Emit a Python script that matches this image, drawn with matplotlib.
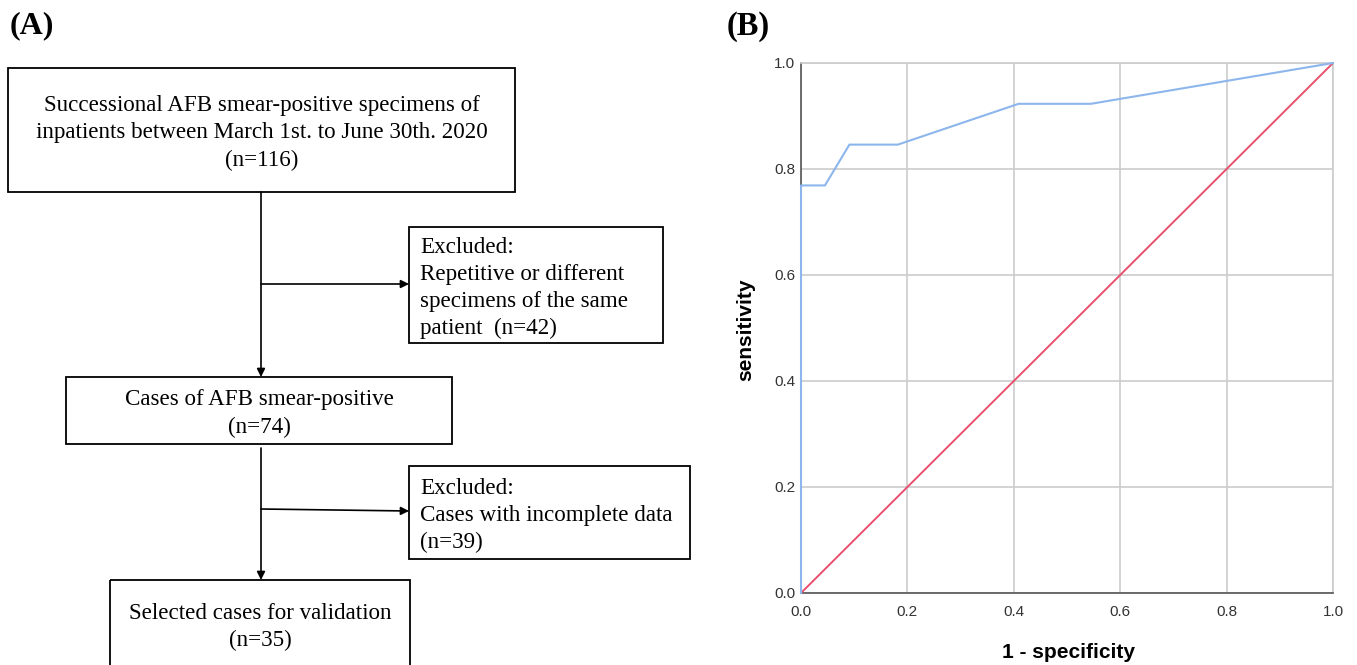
import matplotlib.pyplot as plt

# ROC curve points (1 - specificity, sensitivity)
fpr = [0.0, 0.0, 0.045, 0.091, 0.182, 0.409, 0.545, 1.0]
tpr = [0.0, 0.769, 0.769, 0.846, 0.846, 0.923, 0.923, 1.0]
ref_x = [0.0, 1.0]
ref_y = [0.0, 1.0]
ticks = [0.0, 0.2, 0.4, 0.6, 0.8, 1.0]
tick_labels = ['0.0', '0.2', '0.4', '0.6', '0.8', '1.0']

# flowchart text
box_texts = [
    'Successional AFB smear-positive specimens of\ninpatients between March 1st. to June 30th. 2020\n(n=116)',
    'Excluded:\nRepetitive or different\nspecimens of the same\npatient  (n=42)',
    'Cases of AFB smear-positive\n(n=74)',
    'Excluded:\nCases with incomplete data\n(n=39)',
    'Selected cases for validation\n(n=35)',
]

W, H = 1357, 665
fig = plt.figure(figsize=(W / 100, H / 100), dpi=100)

# ---- panel A: flowchart drawn in pixel coordinates
axA = fig.add_axes([0, 0, 1, 1])
axA.set_xlim(0, W)
axA.set_ylim(H, 0)
axA.axis('off')

serif = 'Liberation Serif'
fs = 16.6
ls = 1.38
# (x0, y0, x1, y1, align)
boxes = [
    (8, 68, 515, 192, 'center'),
    (409, 227, 663, 343, 'left'),
    (66, 377, 452, 444, 'center'),
    (409, 466, 690, 559, 'left'),
    (110, 580, 410, 668, 'center'),
]
for (x0, y0, x1, y1, al), txt in zip(boxes, box_texts):
    axA.add_patch(plt.Rectangle((x0, y0), x1 - x0, y1 - y0, fill=False,
                                ec='black', lw=1.3, clip_on=False))
    if al == 'center':
        axA.text((x0 + x1) / 2, (y0 + y1) / 2 + 3, txt, ha='center', va='center',
                 family=serif, fontsize=fs, linespacing=ls)
    else:
        axA.text(x0 + 11, (y0 + y1) / 2 + 3, txt, ha='left', va='center',
                 family=serif, fontsize=fs, linespacing=ls)

arrow = dict(arrowstyle='-|>', color='black', lw=1.2, mutation_scale=12,
             shrinkA=0, shrinkB=0)
axA.annotate('', xy=(261, 377), xytext=(261, 192), arrowprops=arrow)
axA.annotate('', xy=(409, 284), xytext=(261, 284), arrowprops=arrow)
axA.annotate('', xy=(261, 580), xytext=(261, 448), arrowprops=arrow)
axA.annotate('', xy=(409, 511), xytext=(261, 509), arrowprops=arrow)

axA.text(10, 26, '(A)', family=serif, fontsize=23, fontweight='bold',
         ha='left', va='center')
axA.text(727, 26, '(B)', family=serif, fontsize=23.5, fontweight='bold',
         ha='left', va='center')

# ---- panel B: ROC curve
l, r, b, t = 801 / W, 1333 / W, (H - 593) / H, (H - 63) / H
axB = fig.add_axes([l, b, r - l, t - b])
axB.plot(ref_x, ref_y, color='#e8506e', lw=1.4, zorder=3)
axB.plot(fpr, tpr, color='#8cb6ec', lw=1.5, zorder=4, clip_on=False)
axB.set_xlim(0, 1)
axB.set_ylim(0, 1)
axB.set_xticks(ticks)
axB.set_yticks(ticks)
axB.set_xticklabels(tick_labels)
axB.set_yticklabels(tick_labels)
axB.tick_params(length=0, labelsize=11, colors='#333333')
axB.tick_params(axis='x', pad=9)
axB.tick_params(axis='y', pad=4)
axB.grid(True, color='#cccccc', lw=1.2)
axB.set_axisbelow(True)
for s in ['top', 'right']:
    axB.spines[s].set_color('#cccccc')
    axB.spines[s].set_linewidth(1.2)
for s in ['left', 'bottom']:
    axB.spines[s].set_color('#555555')
    axB.spines[s].set_linewidth(1.2)
for lab in axB.get_xticklabels() + axB.get_yticklabels():
    lab.set_family('Liberation Sans')

fig.text(1068 / W, 1 - 652 / H, '1 - specificity', ha='center', va='center',
         fontsize=15, fontweight='bold', family='Liberation Sans')
fig.text(746 / W, 1 - 330 / H, 'sensitivity', ha='center', va='center',
         rotation=90, fontsize=15, fontweight='bold', family='Liberation Sans')

fig.savefig('out.png', dpi=100)
